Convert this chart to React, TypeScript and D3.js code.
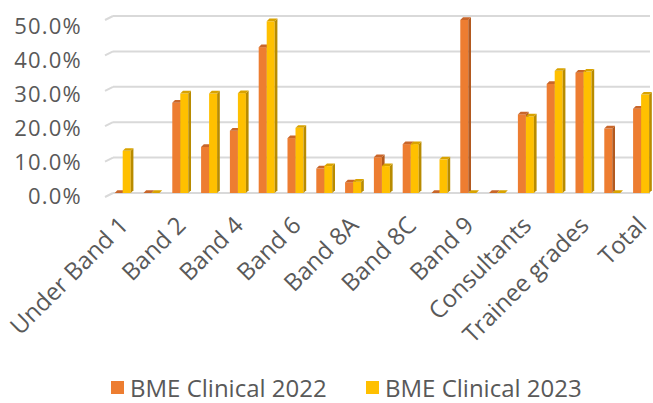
import React from "react";
import * as d3 from "d3";

// Workforce groups (only every second label is printed on the axis)
const categories = [
  "Under Band 1", "Band 1", "Band 2", "Band 3", "Band 4", "Band 5", "Band 6",
  "Band 7", "Band 8A", "Band 8B", "Band 8C", "Band 8D", "Band 9", "VSM",
  "Consultants", "Non-consultant career grade", "Trainee grades", "Other", "Total",
];

// Share of staff, in percent
const clinical2022 = [0, 0, 25.5, 13.0, 17.6, 41.2, 15.5, 6.9, 3.0, 10.1, 13.8, 0, 48.9, 0, 22.2, 30.8, 34.0, 18.2, 23.8];
const clinical2023 = [11.9, 0, 28.1, 28.1, 28.2, 48.5, 18.4, 7.6, 3.2, 7.6, 13.8, 9.5, 0, 0, 21.6, 34.5, 34.3, 0, 27.8];

const yTicks = [0, 0.1, 0.2, 0.3, 0.4, 0.5];
const seriesNames = ["BME Clinical 2022", "BME Clinical 2023"];

const W = 653;
const H = 403;
const FONT = "'Open Sans', 'Noto Sans', sans-serif";
const TEXT = "#595959";

const palette = [
  { front: "#ED7D31", side: "#B2591F", top: "#C9662A" },
  { front: "#FFC000", side: "#B88B00", top: "#D9A300" },
];

export default function App() {
  const x = d3.scaleBand<string>().domain(categories).range([108.3, 655.5]).padding(0);
  const y = d3.scaleLinear().domain([0, 0.5]).range([193, 16]);
  const yLab = d3.scaleLinear().domain([0, 0.5]).range([196.5, 26]);
  const fmt = d3.format(".1%");

  const barW = x.bandwidth() * 0.278;
  const dx = 2.7;
  const dy = 2.7;

  const bar = (x0: number, v: number, c: typeof palette[0], key: string) => {
    const yt = y(v / 100);
    const yb = y(0);
    const x1 = x0 + barW;
    return (
      <g key={key}>
        {v > 0 && <rect x={x0} y={yt} width={barW} height={yb - yt} fill={c.front} />}
        {v > 0 && (
          <path d={`M${x1},${yt}L${x1 + dx},${yt - dy}L${x1 + dx},${yb - dy}L${x1},${yb}Z`} fill={c.side} />
        )}
        <path d={`M${x0},${yt}L${x0 + dx},${yt - dy}L${x1 + dx},${yt - dy}L${x1},${yt}Z`} fill={c.top} />
      </g>
    );
  };

  return (
    <div style={{ position: "absolute", left: 0, top: 0 }}>
      <svg width={W} height={H} style={{ display: "block", background: "#fff" }}>
        {/* back-wall gridlines with the floor bevel on the left */}
        {yTicks.map((t) => (
          <g key={t}>
            <line x1={113} x2={650} y1={y(t)} y2={y(t)} stroke="#d9d9d9" strokeWidth={2} />
            <line x1={105} x2={113} y1={y(t) + 4} y2={y(t)} stroke="#d9d9d9" strokeWidth={2} />
          </g>
        ))}

        {/* y axis labels */}
        {yTicks.map((t) => (
          <text
            key={"l" + t}
            x={82}
            y={yLab(t)}
            dy="0.36em"
            textAnchor="end"
            fontFamily={FONT}
            fontSize={22}
            letterSpacing={1.2}
            fill={TEXT}
          >
            {fmt(t)}
          </text>
        ))}

        {/* bars */}
        {categories.map((cat, i) => {
          const c = (x(cat) ?? 0) + x.bandwidth() / 2;
          return (
            <g key={cat}>
              {bar(c - barW, clinical2022[i], palette[0], "a")}
              {bar(c, clinical2023[i], palette[1], "b")}
            </g>
          );
        })}

        {/* category labels */}
        {categories.map((cat, i) =>
          i % 2 === 0 ? (
            <text
              key={"c" + cat}
              transform={`translate(${(x(cat) ?? 0) + x.bandwidth() / 2 - 5},${215}) rotate(-45)`}
              textAnchor="end"
              dy="0.7em"
              fontFamily={FONT}
              fontSize={24}
              fill={TEXT}
            >
              {cat}
            </text>
          ) : null
        )}

        {/* legend */}
        {seriesNames.map((name, i) => {
          const lx = i === 0 ? 111 : 366;
          return (
            <g key={name}>
              <rect x={lx} y={381} width={13} height={13} fill={palette[i].front} />
              <text x={lx + 19} y={388} dy="0.36em" fontFamily={FONT} fontSize={24} fill={TEXT}>
                {name}
              </text>
            </g>
          );
        })}
      </svg>
    </div>
  );
}
